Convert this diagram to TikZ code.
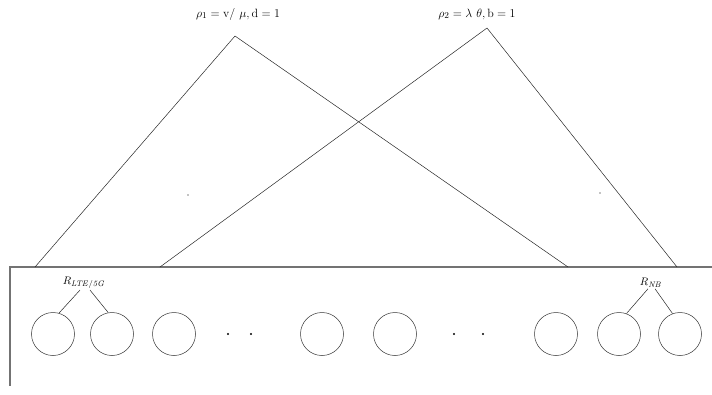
\documentclass[tikz,border=0pt]{standalone}
\usetikzlibrary{positioning}
\begin{document}
\begin{tikzpicture}[x=1pt,y=-1pt,ln/.style={black!85,line width=0.5pt},edge/.style={black!55,line width=1.1pt},cell/.style={draw=black!80,circle,minimum size=43pt,inner sep=0pt,line width=0.5pt},dot/.style={circle,fill,inner sep=0pt,minimum size=2.2pt},lbl/.style={font=\fontsize{12.5}{14}\selectfont,inner sep=1pt},rlbl/.style={font=\fontsize{11}{13}\selectfont,inner sep=1pt}]
\useasboundingbox (0,0) rectangle (712,394);
% rates at the top
\node[lbl] (rho1) at (238,14) {$\rho_1 = \mathrm{v}/\ \mu, \mathrm{d} = 1$};
\node[lbl] (rho2) at (477,14) {$\rho_2 = \lambda\ \theta, \mathrm{b} = 1$};
\coordinate (a1) at (235,36); \coordinate (a2) at (487,28);
% system box
\coordinate (e1) at (35,267); \coordinate (e2) at (160,267); \coordinate (e3) at (568,267); \coordinate (e4) at (677,267);
\draw[edge] (712,267) -- (10,267) -- (10,386);
\draw[ln] (a1)--(e1); \draw[ln] (a1)--(e3); \draw[ln] (a2)--(e2); \draw[ln] (a2)--(e4);
\node[dot,minimum size=1.2pt] (s1) at (188,195) {}; \node[dot,minimum size=1.2pt] (s2) at (600,193) {};
% resources
\foreach \x [count=\i] in {53,112,174,322,395,556,619,680} \node[cell] (c\i) at (\x,334) {};
\foreach \x [count=\i] in {228,251,454,483} \node[dot] (d\i) at (\x,334) {};
\node[rlbl] (rlte) at (84,283) {$R_{\mathit{LTE/5G}}$};
\node[rlbl] (rnb) at (651,283) {$R_{\mathit{NB}}$};
\draw[ln] ([xshift=-4pt]rlte.south) -- (c1.74); \draw[ln] ([xshift=6pt]rlte.south) -- (c2.100);
\draw[ln] ([xshift=-3pt]rnb.south) -- (c7.70); \draw[ln] ([xshift=4pt]rnb.south) -- (c8.110);
\end{tikzpicture}
\end{document}
